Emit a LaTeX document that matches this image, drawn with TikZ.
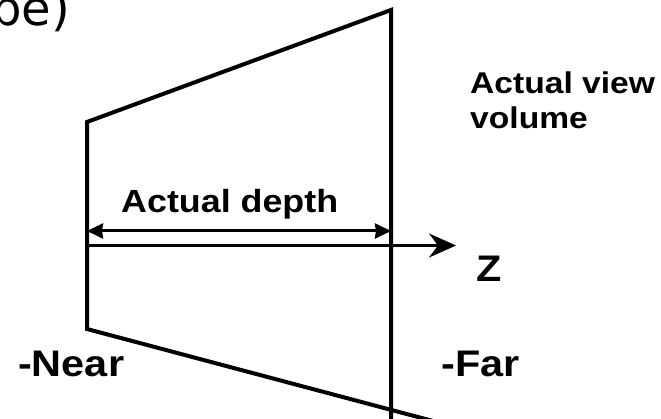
\documentclass[tikz,border=0pt]{standalone}
\usepackage{fontspec}
\setmainfont{Liberation Sans}[FakeStretch=1.12]
\newfontfamily\titlefont{DejaVu Sans}
\usetikzlibrary{arrows.meta}

\begin{document}
\begin{tikzpicture}[x=1pt,y=-1pt,
  lbl/.style={font=\fontsize{30}{35}\selectfont\bfseries, inner sep=0pt},
  biglbl/.style={font=\fontsize{37}{44}\selectfont\bfseries, inner sep=0pt}]
  \useasboundingbox (0,0) rectangle (661,419);
  \clip (0,0) rectangle (661,419);

  % Title (cut off at the edge)
  \node[anchor=base west, inner sep=0pt, font=\titlefont\fontsize{48}{56}\selectfont] (title) at (-9,26) {be)};

  % View volume
  \coordinate (nt) at (87,122);
  \coordinate (nb) at (87,329);
  \coordinate (ft) at (391,10);
  \coordinate (fb) at (391,440);
  \coordinate (be) at (460,428.2);
  \draw[line width=4pt] (fb) -- (ft) -- (nt) -- (nb) -- (be);

  % Z axis
  \coordinate (z0) at (87,245.5);
  \coordinate (z1) at (456,245.5);
  \draw[line width=3pt, -{Stealth[length=27pt,width=24pt,inset=9pt]}] (z0) -- (z1);

  % Depth
  \coordinate (d0) at (87,231);
  \coordinate (d1) at (391,231);
  \draw[line width=3pt, {Stealth[length=16pt,width=15pt,inset=1pt]}-{Stealth[length=16pt,width=15pt,inset=1pt]}] (d0) -- (d1);

  % Labels
  \node[lbl, font=\fontsize{32}{38}\selectfont\bfseries, anchor=base west] (depth) at (121,213) {Actual depth};
  \node[lbl, anchor=base west, align=left] (vol) at (470,129) {Actual view\\volume};
  \node[biglbl, anchor=base west] (z) at (476,282) {Z};
  \node[biglbl, anchor=base west] (near) at (18,377) {-Near};
  \node[biglbl, anchor=base west] (far) at (441,377) {-Far};
\end{tikzpicture}
\end{document}
